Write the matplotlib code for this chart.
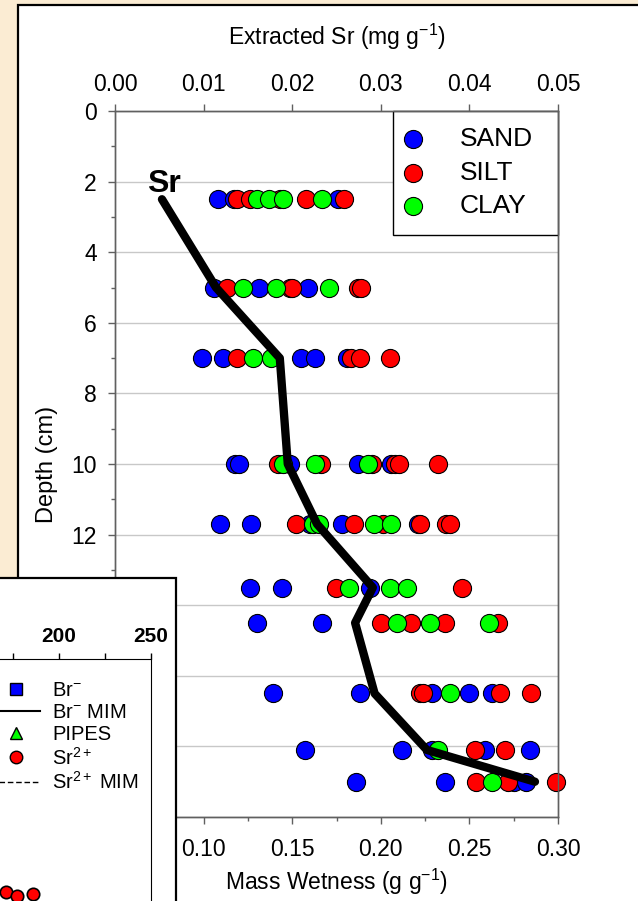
import matplotlib
matplotlib.use('Agg')
import matplotlib.pyplot as plt
from matplotlib.patches import Rectangle
from matplotlib.lines import Line2D
from matplotlib.ticker import MultipleLocator, FormatStrFormatter

plt.rcParams['font.family'] = ['Liberation Sans', 'DejaVu Sans']
plt.rcParams['mathtext.fontset'] = 'custom'
plt.rcParams['mathtext.rm'] = 'Liberation Sans'
plt.rcParams['mathtext.it'] = 'Liberation Sans:italic'
plt.rcParams['mathtext.bf'] = 'Liberation Sans:bold'

# mass wetness (g/g) by depth (cm) for each soil texture
sand = {
    2.5: [0.108, 0.117, 0.176],
    5.0: [0.106, 0.131, 0.159],
    7.0: [0.099, 0.111, 0.155, 0.163, 0.181],
    10.0: [0.118, 0.120, 0.149, 0.187, 0.206],
    11.7: [0.109, 0.127, 0.160, 0.178, 0.221],
    13.5: [0.126, 0.144, 0.194],
    14.5: [0.130, 0.167],
    16.5: [0.139, 0.188, 0.229, 0.250, 0.263],
    18.1: [0.157, 0.212, 0.229, 0.259, 0.284],
    19.0: [0.186, 0.236, 0.275, 0.282],
}
silt = {
    2.5: [0.119, 0.126, 0.143, 0.158, 0.179],
    5.0: [0.113, 0.149, 0.150, 0.187, 0.189],
    7.0: [0.119, 0.183, 0.188, 0.205],
    10.0: [0.142, 0.166, 0.195, 0.208, 0.210, 0.232],
    11.7: [0.152, 0.185, 0.201, 0.222, 0.237, 0.239],
    13.5: [0.175, 0.246],
    14.5: [0.200, 0.217, 0.236, 0.266],
    16.5: [0.222, 0.224, 0.267, 0.285],
    18.1: [0.253, 0.270],
    19.0: [0.254, 0.272, 0.299],
}
clay = {
    2.5: [0.130, 0.137, 0.145, 0.167],
    5.0: [0.122, 0.141, 0.171],
    7.0: [0.128, 0.138],
    10.0: [0.145, 0.163, 0.193],
    11.7: [0.162, 0.165, 0.196, 0.206],
    13.5: [0.182, 0.205, 0.215],
    14.5: [0.209, 0.228, 0.261],
    16.5: [0.239],
    18.1: [0.232],
    19.0: [0.263],
}

# extracted Sr profile (mg/g)
sr_depth = [2.5, 5.0, 7.0, 10.0, 11.7, 13.5, 14.5, 16.5, 18.1, 19.0]
sr_extracted = [0.0053, 0.0114, 0.0186, 0.0195, 0.0228, 0.0291, 0.0271, 0.0293, 0.0352, 0.0474]

# points of the overlapping figure in the lower left corner
inset_sr = [171, 177, 186]
inset_depth = [8.2, 8.35, 8.27]
inset_ticks = [200, 250]
inset_minor = [175, 225]
inset_labels = ['Br$^{-}$', 'Br$^{-}$ MIM', 'PIPES', 'Sr$^{2+}$', 'Sr$^{2+}$ MIM']

W, H = 638, 901


def fx(x):
    return x / W


def fy(y):
    return 1 - y / H


fig = plt.figure(figsize=(W / 100, H / 100), dpi=100)
fig.patch.set_facecolor('#fbecd3')

# white panel behind the main chart
fig.patches.append(Rectangle((fx(18), fy(910)), fx(660 - 18), (910 - 5) / H,
                             transform=fig.transFigure, facecolor='white',
                             edgecolor='black', lw=1.6, zorder=-1))

grey = '#606060'
ax = fig.add_axes([fx(115), fy(817), (558 - 115) / W, (817 - 111) / H])
ax.set_zorder(0)

for data, col, lab in [(sand, 'blue', 'SAND'), (silt, 'red', 'SILT'), (clay, 'lime', 'CLAY')]:
    xs = [v for d in data for v in data[d]]
    ys = [d for d in data for v in data[d]]
    ax.scatter(xs, ys, s=170, c=col, edgecolors='black', linewidths=0.8,
               label=lab, clip_on=False, zorder=3)

ax.set_xlim(0.05, 0.30)
ax.set_ylim(20, 0)
ax.xaxis.set_major_locator(MultipleLocator(0.05))
ax.xaxis.set_minor_locator(MultipleLocator(0.025))
ax.xaxis.set_major_formatter(FormatStrFormatter('%.2f'))
ax.yaxis.set_major_locator(MultipleLocator(2))
ax.yaxis.set_minor_locator(MultipleLocator(1))
ax.yaxis.grid(True, color='#c8c8c8', lw=1)
ax.set_axisbelow(True)
ax.tick_params(which='major', direction='out', length=5, width=1, colors=grey,
               labelcolor='black', labelsize=16.5)
ax.tick_params(which='minor', direction='out', length=3, width=1, colors=grey)
ax.tick_params(axis='x', pad=10)
ax.tick_params(axis='y', pad=8)
for sp in ax.spines.values():
    sp.set_color(grey)
    sp.set_linewidth(1)
ax.set_xlabel('Mass Wetness (g g$^{-1}$)', fontsize=16.5, labelpad=4)
ax.set_ylabel('Depth (cm)', fontsize=17, labelpad=10)

ax.legend(loc='upper left', bbox_to_anchor=(0.6275, 0.8, 0.3725, 0.2), mode='expand',
          borderaxespad=0, fontsize=19, scatterpoints=1, fancybox=False,
          edgecolor='black', framealpha=1, borderpad=0.62, handlelength=0.25,
          handletextpad=1.65, labelspacing=0.36).get_frame().set_linewidth(1)

ax_top = ax.twiny()
ax_top.plot(sr_extracted, sr_depth, color='black', lw=6, solid_capstyle='round', zorder=4)
ax_top.set_xlim(0, 0.05)
ax_top.xaxis.set_major_locator(MultipleLocator(0.01))
ax_top.xaxis.set_major_formatter(FormatStrFormatter('%.2f'))
ax_top.tick_params(direction='out', length=5, width=1, colors=grey,
                   labelcolor='black', labelsize=16.5, pad=6)
for sp in ax_top.spines.values():
    sp.set_color(grey)
    sp.set_linewidth(1)
ax_top.set_xlabel('Extracted Sr (mg g$^{-1}$)', fontsize=16.5, labelpad=20)
ax_top.text(0.0036, 2.3, 'Sr', fontsize=23, fontweight='bold', ha='left', va='baseline')

# overlapping panel of another figure
fig.patches.append(Rectangle((fx(-10), fy(910)), fx(176 + 10), (910 - 578) / H,
                             transform=fig.transFigure, facecolor='white',
                             edgecolor='black', lw=1.6, zorder=1))

axin = fig.add_axes([fx(-309), fy(1000), (151 + 309) / W, (1000 - 659) / H])
axin.set_zorder(2)
axin.patch.set_visible(False)
axin.scatter(inset_sr, inset_depth, s=80, c='red', edgecolors='black',
             linewidths=1.2, clip_on=False)
axin.set_xlim(0, 250)
axin.set_ylim(12, 0)
axin.xaxis.tick_top()
axin.set_xticks(inset_ticks)
axin.set_xticks(inset_minor, minor=True)
axin.tick_params(axis='x', which='both', direction='out', length=4, width=1,
                 labelsize=15, pad=5)
for t in axin.get_xticklabels():
    t.set_fontweight('bold')
axin.set_yticks([])
axin.spines['left'].set_visible(False)
axin.spines['bottom'].set_visible(False)

handles = [
    Line2D([], [], ls='none', marker='s', ms=8.5, mfc='blue', mec='black', mew=1),
    Line2D([], [], color='black', lw=1.5),
    Line2D([], [], ls='none', marker='^', ms=9, mfc='lime', mec='black', mew=1),
    Line2D([], [], ls='none', marker='o', ms=9, mfc='red', mec='black', mew=1),
    Line2D([], [], color='black', lw=1, ls=(0, (4, 2))),
]
axin.legend(handles, inset_labels, loc='upper left', bbox_to_anchor=(fx(-8), fy(681)),
            bbox_transform=fig.transFigure, frameon=False, fontsize=14.5,
            handlelength=2.4, handletextpad=0.6, labelspacing=0.14, borderpad=0,
            borderaxespad=0)

fig.savefig('out.png', dpi=100, facecolor=fig.get_facecolor())
